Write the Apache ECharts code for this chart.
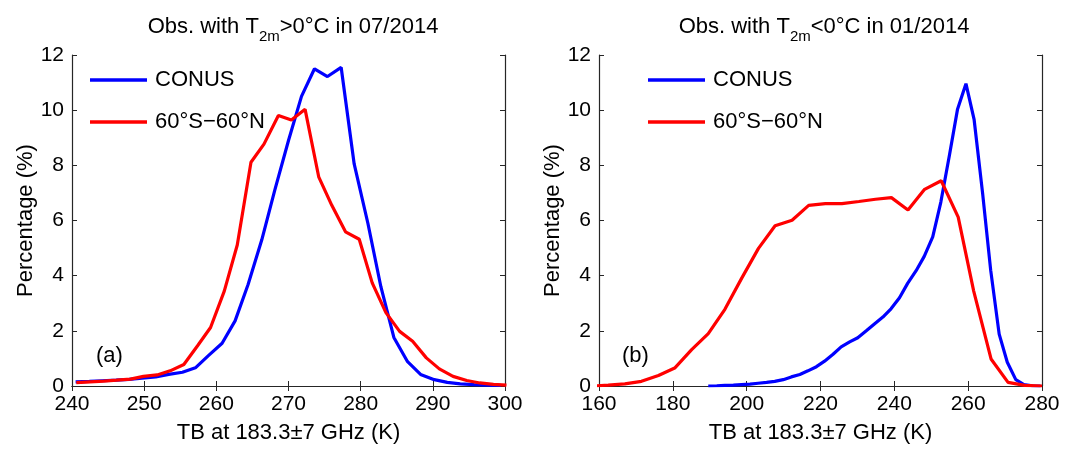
<!DOCTYPE html>
<html>
<head>
<meta charset="utf-8">
<script src="https://cdn.jsdelivr.net/npm/echarts@6/dist/echarts.min.js"></script>
<style>
	html, body { margin: 0; padding: 0; background: #fff; }
	#chart { width: 1067px; height: 449px; }
</style>
</head>
<body>
<div id="chart"></div>
<script>
// (a) T2m > 0°C, 07/2014
var tbBlueA = [240.5, 242.4, 244.2, 246.1, 247.9, 249.7, 251.6, 253.4, 255.3, 257.1, 258.9, 260.8, 262.6, 264.4, 266.3, 268.1, 270.0, 271.8, 273.6, 275.4, 277.3, 279.1, 281.0, 282.8, 284.6, 286.5, 288.3, 290.2, 292.0, 293.8, 295.7, 297.5, 299.4];
var conusA = [0.15, 0.17, 0.19, 0.21, 0.24, 0.28, 0.33, 0.42, 0.5, 0.66, 1.1, 1.55, 2.36, 3.68, 5.3, 7.1, 8.9, 10.5, 11.5, 11.22, 11.55, 8.05, 5.9, 3.6, 1.76, 0.88, 0.42, 0.23, 0.13, 0.08, 0.05, 0.03, 0.02];
var tbRedA = [240.6, 242.5, 244.4, 246.2, 248.1, 249.9, 251.8, 253.6, 255.5, 257.4, 259.2, 261.1, 262.9, 264.8, 266.6, 268.6, 270.4, 272.3, 274.2, 276.0, 277.9, 279.8, 281.6, 283.5, 285.4, 287.2, 289.1, 290.9, 292.8, 294.7, 296.5, 298.4, 300.2];
var globalA = [0.12, 0.15, 0.18, 0.21, 0.25, 0.35, 0.4, 0.55, 0.78, 1.46, 2.12, 3.44, 5.11, 8.11, 8.77, 9.81, 9.64, 10.03, 7.57, 6.55, 5.59, 5.32, 3.74, 2.66, 1.98, 1.62, 1.02, 0.62, 0.35, 0.2, 0.11, 0.06, 0.03];

// (b) T2m < 0°C, 01/2014
var tbBlueB = [189.6, 191.9, 194.1, 196.4, 198.6, 200.9, 203.1, 205.4, 207.6, 209.9, 212.1, 214.4, 216.6, 218.9, 221.1, 223.4, 225.6, 227.9, 230.1, 232.4, 234.6, 236.9, 239.1, 241.4, 243.6, 245.9, 248.1, 250.4, 252.6, 254.9, 257.1, 259.4, 261.6, 263.9, 266.1, 268.4, 270.6, 272.9, 275.1, 277.4, 279.6];
var conusB = [0.0, 0.01, 0.02, 0.03, 0.05, 0.07, 0.1, 0.13, 0.17, 0.23, 0.33, 0.42, 0.55, 0.7, 0.9, 1.15, 1.42, 1.6, 1.75, 2.0, 2.25, 2.5, 2.8, 3.2, 3.72, 4.18, 4.7, 5.41, 6.67, 8.35, 10.02, 10.96, 9.67, 7.0, 4.2, 1.88, 0.86, 0.23, 0.05, 0.01, 0.0];
var tbRedB = [158.0, 162.5, 167.0, 171.5, 176.1, 180.5, 185.1, 189.6, 194.1, 198.7, 203.2, 207.7, 212.3, 216.8, 221.3, 225.8, 230.4, 234.9, 239.2, 243.7, 248.2, 252.7, 257.3, 261.5, 266.2, 270.8, 275.3, 280.0];
var globalB = [0.0, 0.03, 0.08, 0.17, 0.38, 0.65, 1.32, 1.9, 2.78, 3.92, 4.99, 5.81, 6.01, 6.55, 6.61, 6.61, 6.69, 6.77, 6.83, 6.38, 7.13, 7.44, 6.12, 3.44, 0.98, 0.13, 0.02, 0.0];

var yTicks = [0, 2, 4, 6, 8, 10, 12];
var seriesNames = ['CONUS', '60°S\u221260°N'];
var panelTitles = [
	'{t|Obs. with T}{s|2m}{t|>0°C in 07/2014}',
	'{t|Obs. with T}{s|2m}{t|<0°C in 01/2014}'
];
var panelTags = ['(a)', '(b)'];

var axisColor = '#262626';
var fontFamily = 'Liberation Sans, Arial, sans-serif';

function pairs(xs, ys) {
	return xs.map(function (x, i) { return [x, ys[i]]; });
}

// x 轴：底部带标签，顶部只画刻度
function xAxes(grid, min, max, step) {
	var base = {
		gridIndex: grid, type: 'value', min: min, max: max, interval: step,
		axisLine: { lineStyle: { color: axisColor, width: 1.2 } },
		axisTick: { inside: true, length: 5, lineStyle: { color: axisColor } },
		splitLine: { show: false }
	};
	return [
		Object.assign({}, base, {
			position: 'bottom',
			name: 'TB at 183.3\u00b17 GHz (K)', nameLocation: 'middle', nameGap: 36,
			nameTextStyle: { fontSize: 22, color: '#000', fontFamily: fontFamily },
			axisLabel: { fontSize: 21, color: '#000', margin: 8, fontFamily: fontFamily, showMinLabel: true, showMaxLabel: true }
		}),
		Object.assign({}, base, { position: 'top', axisLabel: { show: false } })
	];
}

// y 轴：左侧带标签，右侧只画刻度
function yAxes(grid) {
	var base = {
		gridIndex: grid, type: 'value', min: yTicks[0], max: yTicks[yTicks.length - 1], interval: 2,
		axisLine: { show: true, lineStyle: { color: axisColor, width: 1.2 } },
		axisTick: { show: true, inside: true, length: 5, lineStyle: { color: axisColor } },
		splitLine: { show: false }
	};
	return [
		Object.assign({}, base, {
			position: 'left',
			name: 'Percentage (%)', nameLocation: 'middle', nameGap: 33,
			nameTextStyle: { fontSize: 22, color: '#000', fontFamily: fontFamily },
			axisLabel: { fontSize: 21, color: '#000', margin: 8, fontFamily: fontFamily }
		}),
		Object.assign({}, base, { position: 'right', axisLabel: { show: false } })
	];
}

function lineSeries(name, data, xi, yi, color) {
	return {
		name: name, type: 'line', data: data,
		xAxisIndex: xi, yAxisIndex: yi,
		symbol: 'none', clip: true, animation: false,
		lineStyle: { color: color, width: 3.2 },
		itemStyle: { color: color }
	};
}

function legendAt(left) {
	return {
		data: seriesNames, orient: 'vertical', left: left, top: 62,
		icon: 'rect', itemWidth: 57, itemHeight: 3.5, itemGap: 16,
		textStyle: { fontSize: 22, lineHeight: 26, color: '#000', fontFamily: fontFamily, padding: [0, 0, 0, 3] }
	};
}

function titleAt(x, text) {
	return {
		text: text, left: x, top: 5, textAlign: 'center',
		textStyle: {
			fontWeight: 'normal',
			rich: {
				t: { fontSize: 22, fontWeight: 'normal', color: '#000', fontFamily: fontFamily },
				s: { fontSize: 15, fontWeight: 'normal', color: '#000', fontFamily: fontFamily, padding: [19, 0, 0, 0] }
			}
		}
	};
}

var chart = echarts.init(document.getElementById('chart'));

chart.setOption({
	backgroundColor: '#fff',
	animation: false,
	title: [titleAt(288, panelTitles[0]), titleAt(819, panelTitles[1])],
	legend: [legendAt(85), legendAt(643)],
	grid: [
		{ left: 72, top: 55, width: 433, height: 334 },
		{ left: 599, top: 55, width: 443, height: 334 }
	],
	xAxis: xAxes(0, 240, 300, 10).concat(xAxes(1, 160, 280, 20)),
	yAxis: yAxes(0).concat(yAxes(1)),
	series: [
		lineSeries(seriesNames[0], pairs(tbBlueA, conusA), 0, 0, '#0000ff'),
		lineSeries(seriesNames[1], pairs(tbRedA, globalA), 0, 0, '#ff0000'),
		lineSeries(seriesNames[0], pairs(tbBlueB, conusB), 2, 2, '#0000ff'),
		lineSeries(seriesNames[1], pairs(tbRedB, globalB), 2, 2, '#ff0000')
	],
	graphic: [
		{ type: 'text', left: 96, top: 345, style: { text: panelTags[0], fontSize: 22, fill: '#000', fontFamily: fontFamily } },
		{ type: 'text', left: 622, top: 345, style: { text: panelTags[1], fontSize: 22, fill: '#000', fontFamily: fontFamily } }
	]
});
</script>
</body>
</html>
